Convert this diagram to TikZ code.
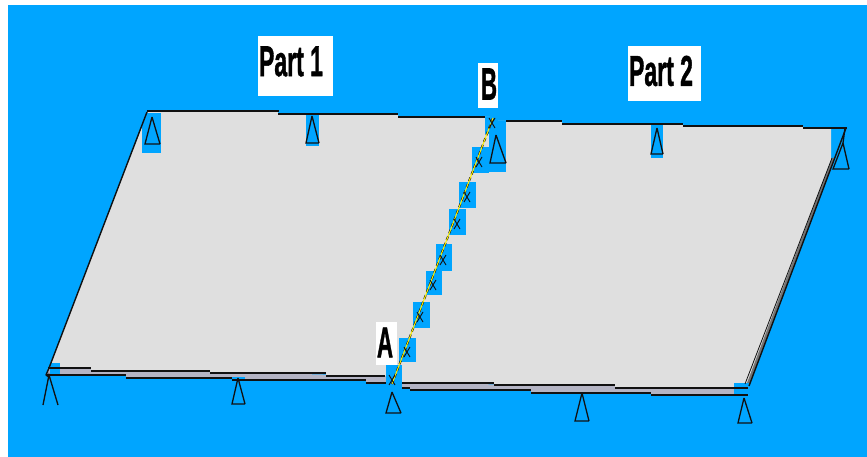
\documentclass[tikz,border=0pt]{standalone}
\usepackage{fontspec}
\setmainfont{Liberation Sans}
\newfontface\labelface{Liberation Sans Bold}[FakeBold=1.4]
\definecolor{skyblue}{HTML}{00A5FF}
\definecolor{plategray}{HTML}{DFDFDF}
\definecolor{bandgray}{HTML}{B4B4C4}
\definecolor{inkline}{HTML}{111111}
\tikzset{
  x=1pt,y=-1pt,
  patch/.style={fill=skyblue,draw=none},
  edgeline/.style={draw=inkline,line width=2pt},
  thinedge/.style={draw=inkline,line width=1.4pt,line join=round},
  supportline/.style={draw=inkline,line width=1.3pt,line join=miter},
  crossmark/.style={draw=inkline,line width=.9pt},
  labeltext/.style={inner sep=0pt,font=\labelface\fontsize{43}{43}\selectfont},
}
\newcommand{\squeezed}[1]{\scalebox{0.535}[1]{#1}}
\begin{document}
\begin{tikzpicture}
\useasboundingbox (0,0) rectangle (867,457);
\fill[white] (0,0) rectangle (867,457);
\fill[skyblue] (8,5) rectangle (867,457);

% lower band of the plates
\fill[bandgray] (48,368) -- (386,376) -- (386,383) -- (366,383) -- (366,380) -- (232,380) -- (232,378)
  -- (126,378) -- (126,375) -- (47,375) -- cycle;
\fill[bandgray] (402,383) -- (748,388) -- (748,395) -- (651,395) -- (651,393) -- (531,393) -- (531,390)
  -- (410,390) -- (410,388) -- (402,388) -- cycle;
% right side band
\fill[black!55] (832,158) -- (835,158) -- (749,386) -- (745,384) -- cycle;

% plate surface
\fill[plategray] (148,111) -- (278,111) -- (278,114) -- (398,114) -- (398,117) -- (490,117) -- (490,121)
  -- (562,121) -- (562,124) -- (683,124) -- (683,126) -- (803,126) -- (803,128) -- (831,128)
  -- (831,160) -- (745,388) -- (615,388) -- (615,385) -- (494,385) -- (494,383) -- (402,383) -- (402,376)
  -- (326,376) -- (326,373) -- (210,373) -- (210,371) -- (91,371) -- (91,368) -- (49,368) -- cycle;

% blue patches round the nodes of the mesh
\foreach \xa/\ya/\xb/\yb in {142/113/161/153, 306/115/319/146, 651/125/663/158,
   485/117/498/134, 489/121/506/172, 472/147/489/173, 459/182/476/208, 449/209/466/235,
   436/244/452/271, 426/271/442/295, 413/302/430/328, 399/338/416/362, 386/365/402/392,
   232/377/245/381, 50/363/60/375, 734/383/749/394}
  \fill[patch] (\xa,\ya) rectangle (\xb,\yb);

% upper edge
\draw[edgeline] (147,111) -- (279,111) (278,114) -- (398,114) (398,117) -- (485,117)
  (506,121) -- (562,121) (562,124) -- (683,124) (683,126) -- (803,126) (803,128) -- (847,128);
% left edge
\draw[thinedge] (147,112) -- (49,368) -- (46,375) -- (49,377);
% bottom edge, upper line
\draw[edgeline] (48,368) -- (91,368) (91,371) -- (210,371) (210,373) -- (326,373) (326,376) -- (385,376)
  (402,383) -- (494,383) (494,385) -- (615,385) (615,388) -- (748,388);
% bottom edge, lower line
\draw[edgeline] (47,375) -- (126,375) (126,378) -- (232,378) (232,380) -- (366,380) (366,383) -- (386,383)
  (402,388) -- (410,388) (410,390) -- (531,390) (531,393) -- (651,393) (651,395) -- (748,395);
% right edge
\draw[thinedge] (846,128) -- (749,386);
\draw[draw=inkline,line width=.8pt] (832,158) -- (745,384);

% seam A-B
\coordinate (seamA) at (392,384);
\coordinate (seamB) at (493,118);
\draw[draw=inkline,line width=2pt,dash pattern=on 4pt off 3pt] (seamA) -- (seamB);
\draw[draw=yellow,line width=1pt] (seamA) -- (seamB);
\foreach \cx/\cy in {492/123, 479/162, 467/197, 457/224, 443/260, 433/285, 420/317, 407/352, 392/380}
  \draw[crossmark] (\cx-3,\cy-5) -- (\cx+3,\cy+5) (\cx+3,\cy-5) -- (\cx-3,\cy+5);

% supports
\foreach \ax/\ay/\bl/\br/\by in {152/117/145/160/144, 312/116/306/319/143, 496/135/490/506/163,
   657/128/651/663/154, 843/143/833/849/169, 238/378/232/245/404, 392/392/386/401/413,
   582/393/575/589/421, 744/398/738/752/423}
  \draw[supportline] (\ax,\ay) -- (\bl,\by) -- (\br,\by) (\br,\by) -- (\ax,\ay);
\draw[supportline] (845,128) -- (843,143);
\draw[supportline] (43,405) -- (49,375) -- (58,405);

% labels
\fill[white] (258,36) rectangle (333,96);
\node[labeltext] (part1) at (291,61.5) {\squeezed{Part 1}};
\fill[white] (628,46) rectangle (701,101);
\node[labeltext] (part2) at (661,71) {\squeezed{Part 2}};
\fill[white] (478,63) rectangle (498,108);
\node[labeltext] (labelB) at (489,84) {\scalebox{0.52}[1.05]{B}};
\fill[white] (376,322) rectangle (397,365);
\node[labeltext] (labelA) at (385,342.5) {\scalebox{0.52}[1]{A}};
\end{tikzpicture}
\end{document}
